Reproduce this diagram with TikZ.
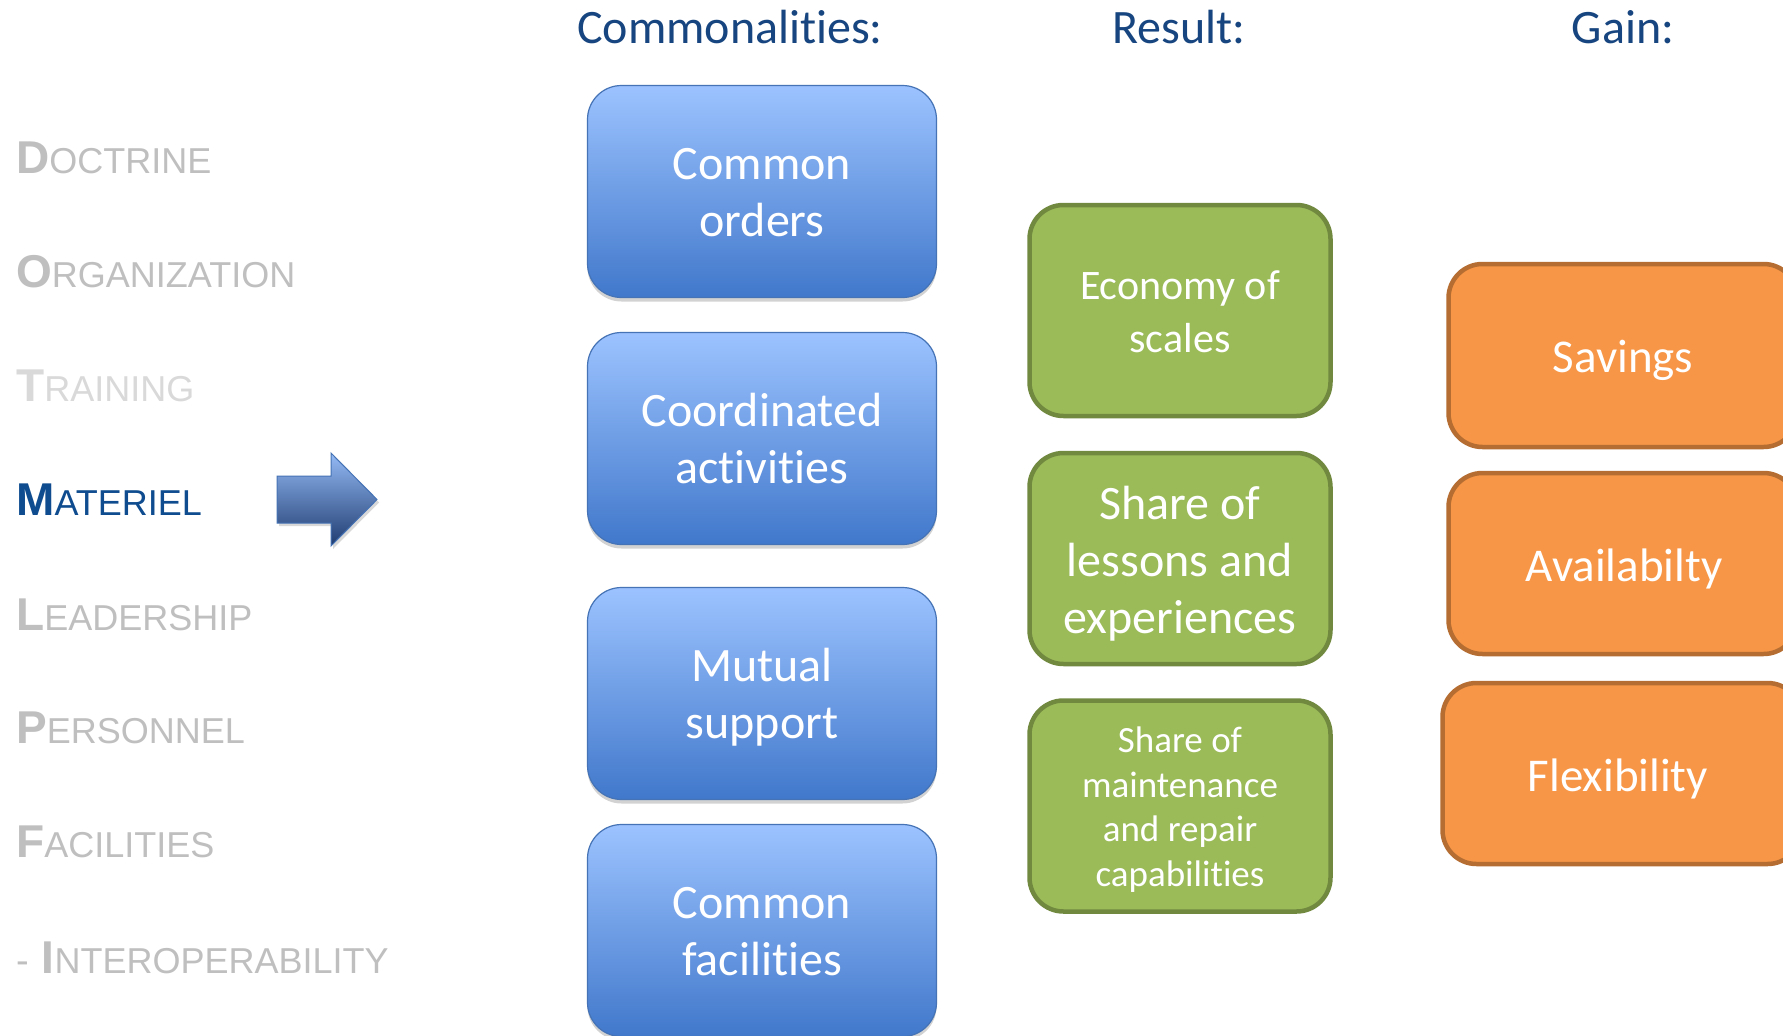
\documentclass[tikz,border=0pt]{standalone}
\usepackage{fontspec}
\setmainfont{Carlito}[Ligatures={NoCommon}]
\newfontfamily\arialf{Liberation Sans}
\usetikzlibrary{shadows}
\definecolor{hdr}{HTML}{17457F}
\definecolor{matblue}{HTML}{0F4C8F}
\definecolor{greytxt}{HTML}{BFBFBF}
\definecolor{lightgrey}{HTML}{D9D9D9}
\definecolor{bluetop}{HTML}{9CC3FF}
\definecolor{bluebot}{HTML}{4178CB}
\definecolor{blueedge}{HTML}{4573B5}
\definecolor{greenfill}{HTML}{9BBB59}
\definecolor{greenedge}{HTML}{71893F}
\definecolor{orangefill}{HTML}{F79646}
\definecolor{orangeedge}{HTML}{B66D31}
\definecolor{arrowtop}{HTML}{94BAF5}
\definecolor{arrowbot}{HTML}{1F3C70}
\newcommand{\dlabel}[3]{{\color{#1}\arialf{\fontsize{46}{46}\selectfont\bfseries #2}{\fontsize{36}{36}\selectfont #3}}}
\tikzset{
  header/.style={font=\fontsize{48}{56}\selectfont, text=hdr, anchor=base},
  listitem/.style={anchor=base west, inner sep=0pt},
  boxtext/.style={align=center, text=white, inner sep=0pt},
  bluebox/.style={rounded corners=34pt, top color=bluetop, bottom color=bluebot, draw=blueedge, line width=1.2pt,
    minimum width=349pt, minimum height=212pt,
    drop shadow={opacity=0.35, shadow xshift=0pt, shadow yshift=-4pt}},
  greenbox/.style={rounded corners=34pt, fill=greenfill, draw=greenedge, line width=4.5pt,
    minimum width=301pt, minimum height=211pt},
  orangebox/.style={rounded corners=34pt, fill=orangefill, draw=orangeedge, line width=4.5pt,
    minimum width=349pt, minimum height=179pt},
  bluefont/.style={font=\fontsize{48}{57}\selectfont},
  orangefont/.style={font=\fontsize{47}{56}\selectfont},
}
\begin{document}
\begin{tikzpicture}[x=1pt,y=-1pt]
\useasboundingbox (0,0) rectangle (1783,1036);
\clip (0,0) rectangle (1783,1036);
\fill[white] (0,0) rectangle (1783,1036);

% headers
\node[header] (hcom) at (730,43) {Commonalities:};
\node[header] (hres) at (1179,43) {Result:};
\node[header] (hgain) at (1623,43) {Gain:};

% left list
\node[listitem] (doc) at (16,173) {\dlabel{greytxt}{D}{OCTRINE}};
\node[listitem] (org) at (16,287) {\dlabel{greytxt}{O}{RGANIZATION}};
\node[listitem] (tra) at (16,401) {\dlabel{lightgrey}{T}{RAINING}};
\node[listitem] (mat) at (16,515) {\dlabel{matblue}{M}{ATERIEL}};
\node[listitem] (lea) at (16,630) {\dlabel{greytxt}{L}{EADERSHIP}};
\node[listitem] (per) at (16,743) {\dlabel{greytxt}{P}{ERSONNEL}};
\node[listitem] (fac) at (16,857) {\dlabel{greytxt}{F}{ACILITIES}};
\node[listitem] (int) at (16,973) {{\color{greytxt}\arialf\fontsize{38}{38}\selectfont -\hspace{13pt}}\dlabel{greytxt}{I}{NTEROPERABILITY}};

% arrow
\shade[top color=arrowtop, bottom color=arrowbot, draw=blueedge, line width=1pt,
  drop shadow={opacity=0.3, shadow xshift=2pt, shadow yshift=-3pt}]
  (277,476) -- (331,476) -- (331,453) -- (377,499.5) -- (331,546) -- (331,523) -- (277,523) -- cycle;

% commonalities
\node[bluebox] (c1) at (762,191.5) {};
\node[boxtext, bluefont, yshift=-1.5pt] (c1t) at (c1.center) {Common\\orders};
\node[bluebox] (c2) at (762,438.5) {};
\node[boxtext, bluefont, yshift=-0.5pt] (c2t) at (c2.center) {Coordinated\\activities};
\node[bluebox] (c3) at (762,693.5) {};
\node[boxtext, bluefont, yshift=-4pt] (c3t) at (c3.center) {Mutual\\support};
\node[bluebox] (c4) at (762,930.5) {};
\node[boxtext, bluefont, yshift=-1.5pt] (c4t) at (c4.center) {Common\\facilities};

% results
\node[greenbox] (r1) at (1180,310.5) {};
\node[boxtext, font=\fontsize{42}{53}\selectfont, yshift=-1pt] (r1t) at (r1.center) {Economy of\\scales};
\node[greenbox] (r2) at (1180,558.5) {};
\node[boxtext, font=\fontsize{48}{57}\selectfont, yshift=-5pt] (r2t) at (r2.center) {Share of\\lessons and\\experiences};
\node[greenbox] (r3) at (1180,806) {};
\node[boxtext, font=\fontsize{37}{44.5}\selectfont, yshift=-3.5pt] (r3t) at (r3.center) {Share of\\maintenance\\and repair\\capabilities};

% gains
\node[orangebox, minimum height=183pt] (g1) at (1623,355.5) {};
\node[boxtext, orangefont, yshift=-5pt] (g1t) at (g1.center) {Savings};
\node[orangebox, minimum height=181pt] (g2) at (1623,563.5) {};
\node[boxtext, orangefont, yshift=-5pt, xshift=1pt] (g2t) at (g2.center) {Availabilty};
\node[orangebox, minimum height=181pt, minimum width=359pt] (g3) at (1622,773.5) {};
\node[boxtext, orangefont, yshift=-5pt, xshift=-4pt] (g3t) at (g3.center) {Flexibility};
\end{tikzpicture}
\end{document}
